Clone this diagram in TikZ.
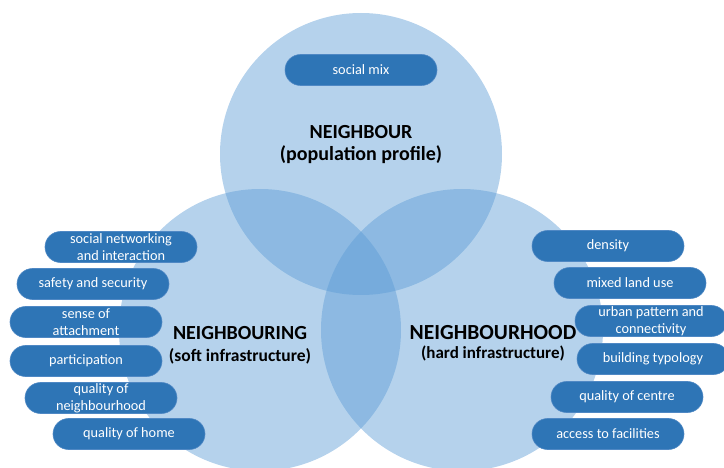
\documentclass[tikz,border=0pt]{standalone}
\usepackage{fontspec}
\setmainfont{Carlito}
\usepackage{xcolor}
\usepackage{tikz}
\definecolor{ringFill}{HTML}{5B9BD5}
\definecolor{pillFill}{HTML}{2E75B6}
\definecolor{pillEdge}{HTML}{4F88C4}

\tikzset{
    ring/.style={fill=ringFill, fill opacity=0.45},
    pill/.style={draw=pillEdge, line width=0.6pt, fill=pillFill, text=white,
        rounded corners=15.5pt, minimum width=152pt, minimum height=31pt,
        inner sep=0pt, align=center, font=\fontsize{14.3}{17}\selectfont},
    title/.style={align=center, font=\bfseries\fontsize{20}{22}\selectfont}
}

\begin{document}
\begin{tikzpicture}[x=1pt, y=-1pt]
    \useasboundingbox (0,0) rectangle (724,468);
    \clip (0,0) rectangle (724,468);
    % the three circles
    \fill[ring] (361,154) circle (141);
    \fill[ring] (260,330) circle (141);
    \fill[ring] (462,330) circle (141);
    % titles
    \node[title] (neighbour) at (361,145) {NEIGHBOUR\\(population profile)};
    \node[title] (neighbouring) at (240,345) {NEIGHBOURING\\{\fontsize{17.5}{21}\selectfont(soft infrastructure)}};
    \node[title] (neighbourhood) at (493,343) {\fontsize{21.5}{19}\selectfont NEIGHBOURHOOD\\[-3pt]{\fontsize{17}{19}\selectfont(hard infrastructure)}};
    % top
    \node[pill] (mix) at (361,70) {social mix};
    % left
    \node[pill] (network) at (121,247) {social networking\\and interaction};
    \node[pill] (safety) at (93,284) {safety and security};
    \node[pill] (attach) at (86,322) {sense of\\attachment};
    \node[pill] (particip) at (86,361) {participation};
    \node[pill] (qneigh) at (101,398) {quality of\\neighbourhood};
    \node[pill] (qhome) at (129,434) {quality of home};
    % right
    \node[pill] (density) at (608,246) {density};
    \node[pill] (landuse) at (630,283) {mixed land use};
    \node[pill] (pattern) at (651,321) {urban pattern and\\connectivity};
    \node[pill] (typology) at (653,359) {building typology};
    \node[pill] (centre) at (627,397) {quality of centre};
    \node[pill] (access) at (608,434) {access to facilities};
\end{tikzpicture}
\end{document}
